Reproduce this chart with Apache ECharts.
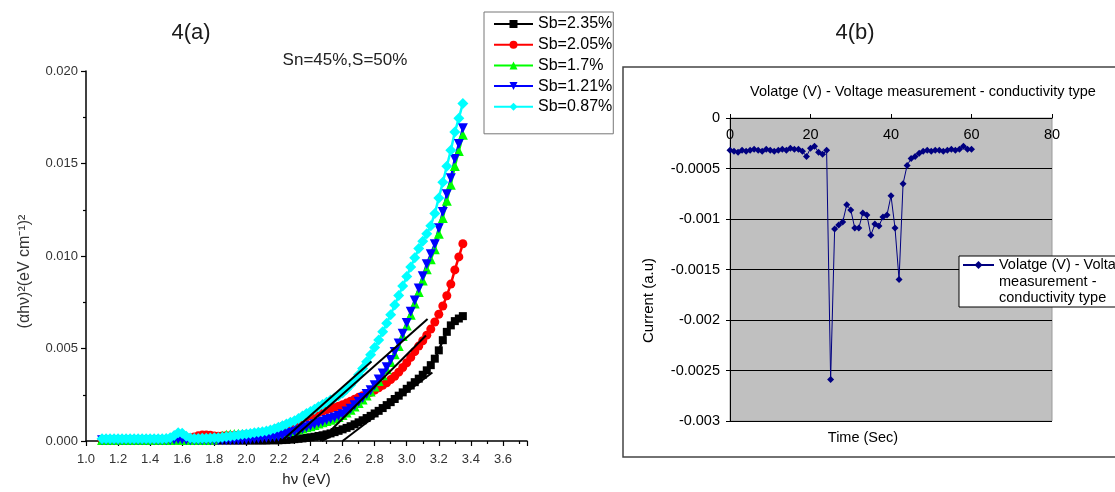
<!DOCTYPE html>
<html>
<head>
<meta charset="utf-8">
<script src="https://cdn.jsdelivr.net/npm/echarts@6/dist/echarts.min.js"></script>
<style>html,body{margin:0;padding:0;background:#fff;}#c{width:1115px;height:492px;}</style>
</head>
<body>
<div id="c"></div>
<script>
// ---------- Panel 4(a): Tauc plot ----------
const energy = [
1.100,1.125,1.150,1.175, 1.200,1.225,1.250,1.275, 1.300,1.325,1.350,1.375, 1.400,1.425,1.450,1.475,
1.500,1.525,1.550,1.575, 1.600,1.625,1.650,1.675, 1.700,1.725,1.750,1.775, 1.800,1.825,1.850,1.875,
1.900,1.925,1.950,1.975, 2.000,2.025,2.050,2.075, 2.100,2.125,2.150,2.175, 2.200,2.225,2.250,2.275,
2.300,2.325,2.350,2.375, 2.400,2.425,2.450,2.475, 2.500,2.525,2.550,2.575, 2.600,2.625,2.650,2.675,
2.700,2.725,2.750,2.775, 2.800,2.825,2.850,2.875, 2.900,2.925,2.950,2.975, 3.000,3.025,3.050,3.075,
3.100,3.125,3.150,3.175, 3.200,3.225,3.250,3.275, 3.300,3.325,3.350];

const sb235 = [
0.00003,0.00003,0.00003,0.00003, 0.00003,0.00003,0.00003,0.00003, 0.00003,0.00003,0.00003,0.00003, 0.00003,0.00003,0.00003,0.00003,
0.00003,0.00004,0.00005,0.00005, 0.00004,0.00003,0.00003,0.00003, 0.00003,0.00003,0.00003,0.00003, 0.00003,0.00003,0.00003,0.00003,
0.00003,0.00003,0.00003,0.00003, 0.00003,0.00003,0.00003,0.00003, 0.00003,0.00003,0.00004,0.00004, 0.00004,0.00005,0.00006,0.00008,
0.00010,0.00012,0.00014,0.00017, 0.00020,0.00023,0.00027,0.00031, 0.00036,0.00041,0.00048,0.00055, 0.00063,0.00071,0.00080,0.00090,
0.00101,0.00112,0.00124,0.00136, 0.00149,0.00163,0.00178,0.00194, 0.00210,0.00227,0.00245,0.00263, 0.00282,0.00300,0.00318,0.00337,
0.00358,0.00382,0.00410,0.00445, 0.00490,0.00545,0.00590,0.00625, 0.00648,0.00662,0.00675];

const sb205 = [
0.00008,0.00008,0.00008,0.00008, 0.00008,0.00008,0.00008,0.00008, 0.00008,0.00008,0.00008,0.00008, 0.00008,0.00008,0.00008,0.00008,
0.00008,0.00010,0.00012,0.00013, 0.00012,0.00012,0.00016,0.00022, 0.00028,0.00032,0.00033,0.00031, 0.00027,0.00026,0.00027,0.00028,
0.00029,0.00030,0.00031,0.00032, 0.00034,0.00036,0.00038,0.00040, 0.00043,0.00047,0.00052,0.00060, 0.00070,0.00078,0.00086,0.00094,
0.00103,0.00112,0.00121,0.00130, 0.00139,0.00147,0.00155,0.00162, 0.00168,0.00175,0.00182,0.00188, 0.00196,0.00205,0.00215,0.00226,
0.00236,0.00245,0.00253,0.00263, 0.00275,0.00288,0.00301,0.00315, 0.00332,0.00350,0.00372,0.00397, 0.00423,0.00452,0.00483,0.00513,
0.00542,0.00572,0.00605,0.00643, 0.00685,0.00730,0.00785,0.00848, 0.00925,0.00995,0.01066];

const sb17 = [
0.00005,0.00005,0.00005,0.00005, 0.00005,0.00005,0.00005,0.00005, 0.00005,0.00005,0.00005,0.00005, 0.00005,0.00005,0.00005,0.00005,
0.00005,0.00006,0.00007,0.00008, 0.00007,0.00006,0.00005,0.00005, 0.00005,0.00005,0.00006,0.00007, 0.00010,0.00020,0.00029,0.00034,
0.00036,0.00038,0.00039,0.00038, 0.00037,0.00037,0.00037,0.00037, 0.00038,0.00039,0.00040,0.00042, 0.00044,0.00047,0.00050,0.00054,
0.00058,0.00063,0.00068,0.00074, 0.00080,0.00087,0.00094,0.00101, 0.00108,0.00115,0.00122,0.00130, 0.00140,0.00154,0.00169,0.00186,
0.00205,0.00225,0.00246,0.00268, 0.00294,0.00324,0.00355,0.00388, 0.00427,0.00469,0.00514,0.00568, 0.00624,0.00682,0.00743,0.00806,
0.00868,0.00928,0.00982,0.01036, 0.01120,0.01206,0.01298,0.01385, 0.01487,0.01568,0.01655];

const sb121 = [
0.00004,0.00004,0.00004,0.00004, 0.00004,0.00004,0.00004,0.00004, 0.00004,0.00004,0.00004,0.00004, 0.00004,0.00004,0.00004,0.00004,
0.00004,0.00005,0.00007,0.00010, 0.00008,0.00005,0.00004,0.00004, 0.00004,0.00004,0.00004,0.00004, 0.00004,0.00004,0.00004,0.00004,
0.00004,0.00005,0.00006,0.00007, 0.00008,0.00010,0.00012,0.00014, 0.00016,0.00018,0.00020,0.00022, 0.00025,0.00030,0.00036,0.00043,
0.00050,0.00058,0.00066,0.00074, 0.00082,0.00090,0.00098,0.00106, 0.00113,0.00120,0.00127,0.00135, 0.00145,0.00160,0.00175,0.00193,
0.00212,0.00233,0.00254,0.00275, 0.00302,0.00333,0.00365,0.00398, 0.00438,0.00481,0.00527,0.00580, 0.00638,0.00698,0.00760,0.00825,
0.00890,0.00955,0.01010,0.01063, 0.01150,0.01238,0.01334,0.01420, 0.01524,0.01605,0.01690];

const sb087 = [
0.00012,0.00012,0.00012,0.00012, 0.00012,0.00012,0.00012,0.00012, 0.00012,0.00012,0.00012,0.00012, 0.00012,0.00012,0.00012,0.00012,
0.00013,0.00017,0.00030,0.00045, 0.00042,0.00026,0.00016,0.00014, 0.00014,0.00015,0.00015,0.00016, 0.00017,0.00018,0.00020,0.00023,
0.00026,0.00029,0.00032,0.00035, 0.00038,0.00041,0.00044,0.00047, 0.00050,0.00054,0.00059,0.00066, 0.00075,0.00083,0.00092,0.00101,
0.00110,0.00122,0.00135,0.00148, 0.00160,0.00172,0.00185,0.00197, 0.00210,0.00222,0.00232,0.00245, 0.00260,0.00280,0.00303,0.00328,
0.00358,0.00392,0.00428,0.00466, 0.00505,0.00546,0.00590,0.00636, 0.00683,0.00735,0.00786,0.00838, 0.00889,0.00940,0.00990,0.01040,
0.01080,0.01120,0.01164,0.01230, 0.01314,0.01398,0.01485,0.01572, 0.01670,0.01745,0.01825];

// Linear extrapolation (tangent) lines
const tangent1 = [[2.22, 0], [2.78, 0.0043]];
const tangent2 = [[2.27, 0], [3.13, 0.0066]];
const tangent3 = [[2.46, 0], [3.12, 0.0057]];
const tangent4 = [[2.60, 0], [3.16, 0.0037]];
const tangent5 = [[2.47, 0], [2.67, 0.0009]];

const legendA = ['Sb=2.35%', 'Sb=2.05%', 'Sb=1.7%', 'Sb=1.21%', 'Sb=0.87%'];

// ---------- Panel 4(b): conductivity type ----------
const timeSec = [0,1,2,3,4,5,6,7,8,9,10,11,12,13,14,15,16,17,18,19,20,21,22,23,24,25,26,27,28,29,30,
31,32,33,34,35,36,37,38,39,40,41,42,43,44,45,46,47,48,49,50,51,52,53,54,55,56,57,58,59,60];
const current = [
-0.00032,-0.00033,-0.00034,-0.00032,-0.00033,-0.00032,-0.00031,-0.00032,-0.00033,-0.00031,
-0.00032,-0.00033,-0.00032,-0.00031,-0.00032,-0.00030,-0.00031,-0.00031,-0.00033,-0.00038,
-0.00030,-0.00028,-0.00034,-0.00036,-0.00032,-0.00259,-0.00110,-0.00106,-0.00103,-0.00086,
-0.00091,-0.00109,-0.00109,-0.00094,-0.00096,-0.00116,-0.00105,-0.00107,-0.00098,-0.00096,
-0.00077,-0.00109,-0.00160,-0.00065,-0.00047,-0.00040,-0.00038,-0.00035,-0.00033,-0.00032,
-0.00033,-0.00032,-0.00032,-0.00033,-0.00032,-0.00031,-0.00032,-0.00031,-0.00028,-0.00031,-0.00031];
const seriesBName = 'Volatge (V) - Voltage measurement - conductivity type';

const FONT = "'Liberation Sans', Arial, sans-serif";
const pairs = ys => energy.map((e, i) => [e, ys[i]]);
const invTri = 'path://M0,0 L10,0 L5,9 Z';

function tauc(name, ys, color, symbol, size) {
  return {
    type: 'line', name, data: pairs(ys), xAxisIndex: 0, yAxisIndex: 0,
    symbol, symbolSize: size, showSymbol: true,
    lineStyle: { color, width: 2.5 }, itemStyle: { color },
    animation: false, z: 2
  };
}
function tangent(data) {
  return {
    type: 'line', data, xAxisIndex: 0, yAxisIndex: 0, symbol: 'none',
    lineStyle: { color: '#000', width: 2 }, z: 5, silent: true
  };
}

const chart = echarts.init(document.getElementById('c'), null, { renderer: 'canvas' });
chart.setOption({
  animation: false,
  textStyle: { fontFamily: FONT },
  grid: [
    { left: 86, top: 71, width: 441, height: 373 },
    { left: 730, top: 118, width: 322, height: 303, show: true,
      backgroundColor: '#c0c0c0', borderColor: '#9a9a9a', borderWidth: 1 }
  ],
  xAxis: [
    { gridIndex: 0, type: 'value', min: 1.0, max: 3.75, interval: 0.2,
      axisLine: { lineStyle: { color: '#000', width: 1.5 } },
      axisTick: { length: 5, lineStyle: { color: '#000', width: 1.2 } },
      minorTick: { show: true, splitNumber: 2, length: 3, lineStyle: { color: '#000', width: 1.2 } },
      splitLine: { show: false },
      axisLabel: { fontSize: 13, color: '#333', margin: 12,
        formatter: v => (v > 3.71 ? '' : v.toFixed(1)) },
      name: 'hν (eV)', nameLocation: 'middle', nameGap: 31,
      nameTextStyle: { fontSize: 15, color: '#222' } },
    { gridIndex: 1, type: 'value', min: 0, max: 80, interval: 20, position: 'top',
      axisLine: { lineStyle: { color: '#000', width: 1 } },
      axisTick: { length: 4, lineStyle: { color: '#000' } },
      splitLine: { show: false },
      axisLabel: { inside: true, margin: 9, fontSize: 14.5, color: '#000' } }
  ],
  yAxis: [
    { gridIndex: 0, type: 'value', min: 0, max: 0.02, interval: 0.005,
      axisLine: { show: true, lineStyle: { color: '#000', width: 1.5 } },
      axisTick: { show: true, length: 5, lineStyle: { color: '#000', width: 1.2 } },
      minorTick: { show: true, splitNumber: 2, length: 3, lineStyle: { color: '#000', width: 1.2 } },
      splitLine: { show: false },
      axisLabel: { fontSize: 13, color: '#333', margin: 8, formatter: v => v.toFixed(3) },
      name: '(αhν)²(eV cm⁻¹)²', nameLocation: 'middle', nameGap: 53,
      nameTextStyle: { fontSize: 16, color: '#333', padding: [0, 31, 0, 0] } },
    { gridIndex: 1, type: 'value', min: -0.003, max: 0, interval: 0.0005,
      axisLine: { show: true, lineStyle: { color: '#000', width: 1 } },
      axisTick: { show: true, length: 4, lineStyle: { color: '#000' } },
      splitLine: { show: true, lineStyle: { color: '#000', width: 1 } },
      axisLabel: { fontSize: 14.5, color: '#000', margin: 10,
        formatter: v => String(+v.toFixed(4)) },
      name: 'Current (a.u)', nameLocation: 'middle', nameGap: 74,
      nameTextStyle: { fontSize: 15, color: '#000', padding: [0, 62, 0, 0] } }
  ],
  legend: [
    { data: legendA, orient: 'vertical', left: 484, top: 12,
      itemWidth: 39, itemHeight: 10, itemGap: 2.7,
      padding: [3, 1, 18, 9], borderColor: '#777', borderWidth: 1, backgroundColor: '#fff',
      textStyle: { fontSize: 16, lineHeight: 18, color: '#000' }, selectedMode: false },
    { data: [seriesBName], orient: 'vertical', left: 962, top: 223.75,
      itemWidth: 31, itemHeight: 10, padding: 0, selectedMode: false,
      formatter: () => ' \n \nVolatge (V) - Voltage\nmeasurement -\nconductivity type',
      textStyle: { fontSize: 14.5, lineHeight: 16.5, color: '#000' } }
  ],
  graphic: [
    { type: 'rect', z: 0, silent: true, shape: { x: 623, y: 67, width: 520, height: 390 },
      style: { fill: 'none', stroke: '#444', lineWidth: 1.5 } },
    { type: 'rect', z: 3, silent: true, shape: { x: 959, y: 256, width: 200, height: 51 },
      style: { fill: '#fff', stroke: '#000', lineWidth: 1 } },
    { type: 'text', silent: true, style: { text: '4(a)', x: 191, y: 33, align: 'center', verticalAlign: 'middle',
      font: "22px 'Liberation Sans', Arial, sans-serif", fill: '#1a1a1a' } },
    { type: 'text', silent: true, style: { text: '4(b)', x: 855, y: 33, align: 'center', verticalAlign: 'middle',
      font: "22px 'Liberation Sans', Arial, sans-serif", fill: '#1a1a1a' } },
    { type: 'text', silent: true, style: { text: 'Sn=45%,S=50%', x: 345, y: 60, align: 'center', verticalAlign: 'middle',
      font: "17px 'Liberation Sans', Arial, sans-serif", fill: '#222' } },
    { type: 'text', silent: true, style: { text: 'Volatge (V) - Voltage measurement - conductivity type', x: 923, y: 92,
      align: 'center', verticalAlign: 'middle', font: "14.5px 'Liberation Sans', Arial, sans-serif", fill: '#000' } },
    { type: 'text', silent: true, style: { text: 'Time (Sec)', x: 863, y: 438, align: 'center', verticalAlign: 'middle',
      font: "14.5px 'Liberation Sans', Arial, sans-serif", fill: '#000' } }
  ],
  series: [
    tauc('Sb=2.35%', sb235, '#000000', 'rect', 8),
    tauc('Sb=2.05%', sb205, '#ff0000', 'circle', 9),
    tauc('Sb=1.7%', sb17, '#00ff00', 'triangle', 10),
    tauc('Sb=1.21%', sb121, '#0000ff', invTri, 10),
    tauc('Sb=0.87%', sb087, '#00ffff', 'diamond', 11),
    tangent(tangent1), tangent(tangent2), tangent(tangent3), tangent(tangent4), tangent(tangent5),
    { type: 'line', name: seriesBName, xAxisIndex: 1, yAxisIndex: 1,
      data: timeSec.map((t, i) => [t, current[i]]),
      symbol: 'diamond', symbolSize: 7, showSymbol: true,
      lineStyle: { color: '#000080', width: 1 }, itemStyle: { color: '#000080' }, z: 3 }
  ]
});
</script>
</body>
</html>
